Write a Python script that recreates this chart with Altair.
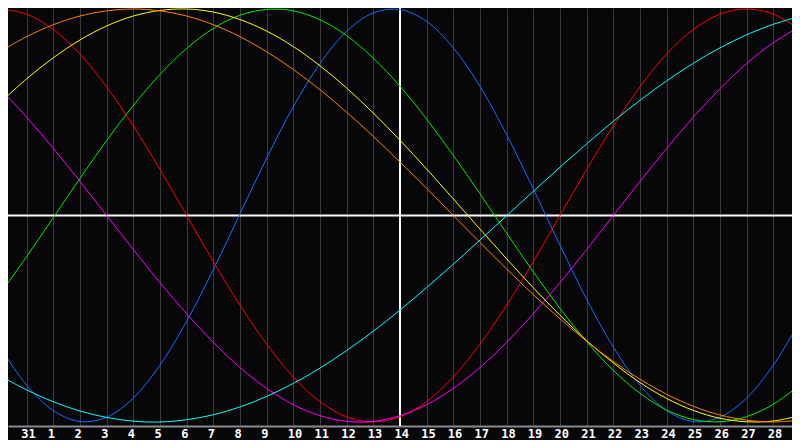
import altair as alt
import pandas as pd

# day index 0..30 (Jan 30 .. Mar 1)
days = list(range(0, 31))
tick_days = list(range(1, 30))
tick_labels = ["31", "1", "2", "3", "4", "5", "6", "7", "8", "9", "10", "11", "12", "13", "14",
               "15", "16", "17", "18", "19", "20", "21", "22", "23", "24", "25", "26", "27", "28"]

physical = [-0.637, -0.822, -0.945, -0.998, -0.977, -0.884, -0.725, -0.512, -0.262, 0.008,
            0.278, 0.527, 0.736, 0.892, 0.981, 0.997, 0.940, 0.812, 0.625, 0.391,
            0.128, -0.144, -0.406, -0.637, -0.822, -0.945, -0.998, -0.977, -0.884, -0.725, -0.512]
emotional = [1.000, 0.975, 0.901, 0.782, 0.623, 0.434, 0.223, 0.000, -0.223, -0.434,
             -0.623, -0.782, -0.901, -0.975, -1.000, -0.975, -0.901, -0.782, -0.623, -0.434,
             -0.223, 0.000, 0.223, 0.434, 0.623, 0.782, 0.901, 0.975, 1.000, 0.975, 0.901]
intellectual = [-0.380, -0.199, -0.010, 0.180, 0.363, 0.533, 0.683, 0.809, 0.906, 0.970,
                0.998, 0.991, 0.948, 0.871, 0.762, 0.626, 0.467, 0.291, 0.105, -0.086,
                -0.273, -0.450, -0.611, -0.750, -0.861, -0.942, -0.988, -0.999, -0.974, -0.914, -0.820]
intuitive = [0.614, 0.476, 0.325, 0.165, 0.000, -0.165, -0.325, -0.476, -0.614, -0.736,
             -0.837, -0.916, -0.969, -0.997, -0.997, -0.969, -0.916, -0.837, -0.736, -0.614,
             -0.476, -0.325, -0.165, 0.000, 0.165, 0.325, 0.476, 0.614, 0.736, 0.837, 0.916]
aesthetic = [0.546, 0.662, 0.764, 0.850, 0.918, 0.966, 0.993, 1.000, 0.985, 0.949,
             0.893, 0.818, 0.725, 0.617, 0.496, 0.364, 0.225, 0.080, -0.066, -0.210,
             -0.350, -0.483, -0.606, -0.714, -0.809, -0.886, -0.944, -0.982, -0.999, -0.995, -0.969]
awareness = [0.793, 0.866, 0.924, 0.966, 0.991, 1.000, 0.991, 0.966, 0.924, 0.866,
             0.793, 0.707, 0.609, 0.500, 0.383, 0.259, 0.131, 0.000, -0.131, -0.259,
             -0.383, -0.500, -0.609, -0.707, -0.793, -0.866, -0.924, -0.966, -0.991, -1.000, -0.991]
spiritual = [-0.776, -0.845, -0.902, -0.947, -0.978, -0.996, -1.000, -0.989, -0.965, -0.927,
             -0.876, -0.813, -0.739, -0.654, -0.560, -0.458, -0.349, -0.236, -0.119, -0.001,
             0.117, 0.234, 0.347, 0.456, 0.558, 0.652, 0.737, 0.812, 0.875, 0.926, 0.964]

series_names = ["physical", "emotional", "intellectual", "intuitive", "aesthetic", "awareness", "spiritual"]
series_values = [physical, emotional, intellectual, intuitive, aesthetic, awareness, spiritual]
series_colors = ["#1a6cff", "#ff0000", "#00ee00", "#ff00ff", "#ffff00", "#ff8000", "#00ffff"]

rows = []
for name, vals in zip(series_names, series_values):
    for d, v in zip(days, vals):
        rows.append({"day": d, "value": v, "series": name})
df = pd.DataFrame(rows)

today = pd.DataFrame({"day": [15]})
zero = pd.DataFrame({"value": [0.0]})

label_expr = "[" + ",".join("'" + t + "'" for t in tick_labels) + "][datum.value - 1]"

x_scale = alt.Scale(domain=[0.3, 29.7], nice=False, zero=False)
y_scale = alt.Scale(domain=[-1.0194, 1.0048], nice=False, zero=False)

x_axis = alt.Axis(
    values=tick_days,
    labelExpr=label_expr,
    title=None,
    grid=True,
    gridColor="#3a3a3a",
    gridWidth=1,
    ticks=False,
    tickSize=0,
    domain=True,
    domainColor="#8a8a8a",
    domainWidth=2,
    labelColor="#ffffff",
    labelFont="DejaVu Sans Mono",
    labelFontWeight="bold",
    labelFontSize=12,
    labelAlign="left",
    labelOffset=-6,
    labelBaseline="alphabetic",
    labelPadding=11,
    labelOverlap=False,
    labelFlush=False,
)

X = alt.X("day:Q", scale=x_scale, axis=x_axis)
Y = alt.Y("value:Q", scale=y_scale, axis=None)

vline = alt.Chart(today).mark_rule(color="#ffffff", strokeWidth=2).encode(x=X)
hline = alt.Chart(zero).mark_rule(color="#ffffff", strokeWidth=2).encode(y=Y)

lines = alt.Chart(df).mark_line(strokeWidth=1, clip=True, interpolate="catmull-rom").encode(
    x=X,
    y=Y,
    color=alt.Color("series:N", scale=alt.Scale(domain=series_names, range=series_colors), legend=None),
    detail="series:N",
)

chart = alt.layer(vline, hline, lines).properties(
    width=784, height=418,
    padding={"left": 0, "top": 0, "right": 0, "bottom": 14},
    background="#07070a",
    autosize=alt.AutoSizeParams(type="none"),
).configure_view(stroke=None)

chart.save("out.html", embed_options={"renderer": "svg", "actions": False})
